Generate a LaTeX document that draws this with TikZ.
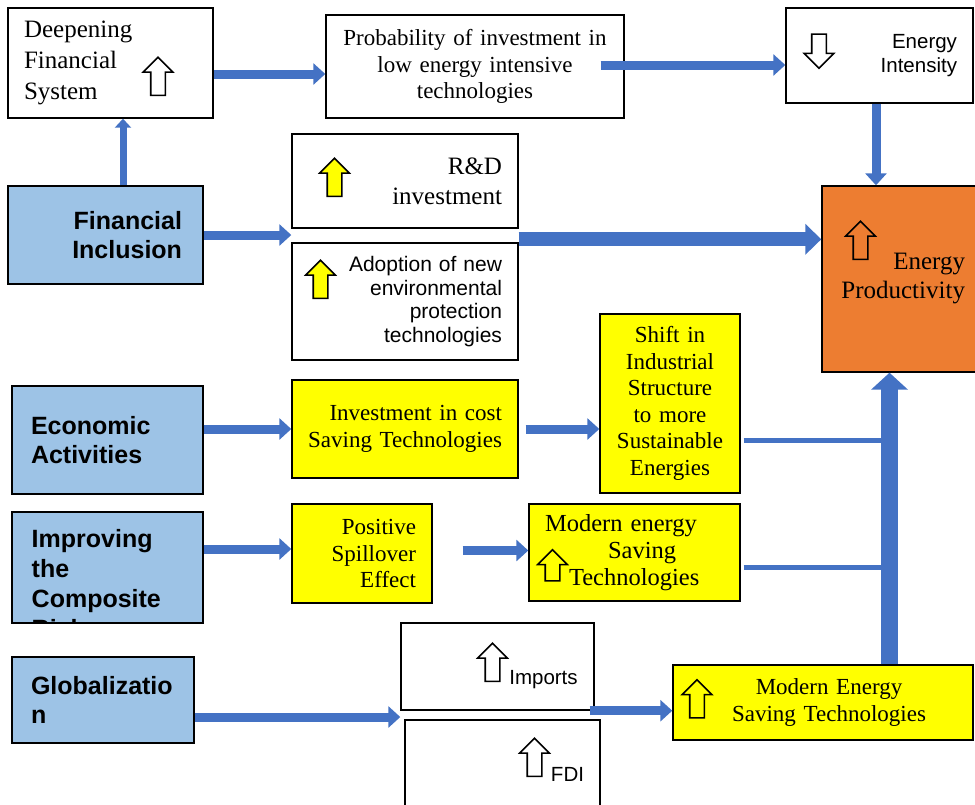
\documentclass[tikz,border=0pt]{standalone}
\usepackage{fontspec}
\setmainfont{Liberation Serif}
\setsansfont{Liberation Sans}
\usetikzlibrary{arrows.meta,shapes.arrows}
\definecolor{driverblue}{HTML}{9DC3E6}
\definecolor{effectyellow}{HTML}{FFFF00}
\definecolor{outcomeorange}{HTML}{ED7D31}
\definecolor{flowblue}{HTML}{4472C4}
\tikzset{
  box/.style={rectangle, draw=black, line width=1.4pt, inner ysep=0pt},
  whitebox/.style={box, fill=white},
  yellowbox/.style={box, fill=effectyellow},
  driver/.style={box, fill=driverblue, font=\sffamily\bfseries\fontsize{25}{29}\selectfont},
  serifmid/.style={font=\rmfamily\fontsize{23}{26.5}\selectfont},
  seriflarge/.style={font=\rmfamily\fontsize{25}{30}\selectfont},
  sanstext/.style={font=\sffamily\fontsize{20.5}{24.5}\selectfont},
  hollowup/.style={single arrow, draw=black, line width=1.6pt, fill=none,
    shape border rotate=90, minimum height=38pt, inner sep=6.5pt,
    single arrow head extend=7.5pt},
  hollowdown/.style={hollowup, shape border rotate=270, minimum height=34pt},
  flow/.style={draw=flowblue, line width=9pt, -{Triangle[length=12pt,width=21pt]}},
  flowthin/.style={draw=flowblue, line width=7pt, -{Triangle[length=9pt,width=16pt]}},
  flowwide/.style={draw=flowblue, line width=14pt, -{Triangle[length=16pt,width=30pt]}},
  spinearrow/.style={draw=flowblue, line width=17pt, -{Triangle[length=17pt,width=36pt]}},
  feed/.style={draw=flowblue, line width=5pt}
}

\begin{document}
\begin{tikzpicture}[x=1pt,y=-1pt]
\path[use as bounding box, fill=white] (0,0) rectangle (975,804);
% top row
\node[whitebox, font=\rmfamily\fontsize{25}{31}\selectfont, align=left, text width=173pt, inner xsep=16pt, minimum height=110pt] (dfs) at (110.5,63) {Deepening\\Financial\\System};
\node[whitebox, serifmid, align=center, text width=266pt, inner xsep=16pt, minimum height=103pt] (prob) at (475,66.5) {Probability of investment in\\low energy intensive\\technologies};
\node[whitebox, sanstext, align=right, text width=155pt, inner xsep=16pt, minimum height=95pt] (ei) at (879.5,55.5) {Energy\\Intensity};
\node[hollowup] (dfsup) at (158,80) {};
\node[hollowdown] (eidown) at (819,47.5) {};
% financial inclusion
\node[driver, align=right, text width=153pt, inner xsep=21pt, minimum height=98pt] (fi) at (105.5,235) {Financial\\Inclusion};
\node[whitebox, seriflarge, align=right, text width=194pt, inner xsep=16pt, minimum height=94pt] (rd) at (405,181) {R\&D\\investment};
\node[whitebox, font=\sffamily\fontsize{21}{23.7}\selectfont, align=right, text width=194pt, inner xsep=16pt, minimum height=117pt] (adopt) at (405,301.5) {Adoption of new\\environmental\\protection\\technologies};
\node[hollowup, fill=effectyellow] (rdup) at (334.5,181) {};
\node[hollowup, fill=effectyellow] (adoptup) at (320.5,283) {};
\node[box, fill=outcomeorange, font=\rmfamily\fontsize{25}{29}\selectfont, align=right, text width=130pt, inner xsep=13pt, minimum height=186pt] (ep) at (900,279) {Energy\\Productivity};
\node[hollowup] (epup) at (860.5,244) {};
% economic activities
\node[driver, align=left, text width=153pt, inner xsep=19pt, minimum height=108pt] (ea) at (107.5,440) {Economic\\Activities};
\node[yellowbox, serifmid, align=right, text width=194pt, inner xsep=16pt, minimum height=98pt] (inv) at (405,429) {Investment in cost\\Saving Technologies};
\node[yellowbox, serifmid, align=center, text width=120pt, inner xsep=10pt, minimum height=179pt] (shift) at (670,403.5) {Shift in\\Industrial\\Structure\\to more\\Sustainable\\Energies};
% composite risk
\node[driver, minimum width=191pt, minimum height=111pt,
  path picture={\node[draw=none, fill=none, anchor=north west, align=left, inner sep=0pt,
    minimum width=0pt, minimum height=0pt,
    font=\sffamily\bfseries\fontsize{25}{30}\selectfont]
    (icrtext) at ([xshift=19pt,yshift=-17pt]path picture bounding box.north west)
    {Improving\\the\\Composite\\Risk};}] (icr) at (107.5,567.5) {};
\node[yellowbox, serifmid, align=right, text width=108pt, inner xsep=16pt, minimum height=99pt] (pse) at (362,553.5) {Positive\\Spillover\\Effect};
\node[yellowbox, font=\rmfamily\fontsize{24.5}{27}\selectfont, align=left, text width=179pt, inner xsep=16pt, minimum height=97pt] (mest) at (634.5,552.5) {Modern energy\\\hspace*{63pt}Saving\\\hspace*{24pt}Technologies};
\node[hollowup, minimum height=31pt] (mestup) at (552.5,569) {};
% globalization
\node[driver, align=left, text width=144pt, inner xsep=19pt, minimum height=86pt] (glob) at (103,700) {Globalizatio\\n};
\node[whitebox, minimum width=193pt, minimum height=87pt] (imp) at (497.5,666.5) {};
\node[whitebox, minimum width=195pt, minimum height=100pt] (fdi) at (502.5,770) {};
\node[hollowup] (impup) at (492.5,666) {};
\node[sanstext, inner sep=0pt] (imptext) at (543.5,680) {Imports};
\node[hollowup] (fdiup) at (534.5,761) {};
\node[sanstext, inner sep=0pt] (fditext) at (567.5,774) {FDI};
\node[yellowbox, serifmid, align=center, text width=268pt, inner xsep=16pt, minimum height=75pt] (mest2) at (823,702.5) {\hspace*{12pt}Modern Energy\\\hspace*{12pt}Saving Technologies};
\node[hollowup] (mest2up) at (697,702.5) {};

% connectors
\coordinate (fiup) at ([xshift=17.5pt]fi.north);
\draw[flowthin] (fiup) -- (fiup |- dfs.south);
\coordinate (dfsout) at ([yshift=-11pt]dfs.east);
\draw[flow] (dfsout) -- (dfsout -| prob.west);
\coordinate (probout) at ([xshift=-24pt,yshift=1.5pt]prob.east);
\draw[flow] (probout) -- (probout -| ei.west);
\coordinate (eiout) at ([xshift=-3.5pt]ei.south);
\draw[flow] (eiout) -- (eiout |- ep.north);
\draw[flow] (fi.east) -- (fi.east -| rd.west);
\coordinate (adoptout) at ([yshift=3pt]adopt.north east);
\draw[flowwide] (adoptout) -- (adoptout -| ep.west);
\draw[flow] (inv.west -| ea.east) -- (inv.west);
\coordinate (invout) at ([xshift=7pt]inv.east);
\draw[flow] (invout) -- (invout -| shift.west);
\coordinate (icrout) at ([yshift=4.5pt]pse.west);
\draw[flow] (icrout -| icr.east) -- (icrout);
\coordinate (pseout) at ([xshift=30pt,yshift=3pt]pse.east);
\draw[flow] (pseout) -- (pseout -| mest.west);
\coordinate (globout) at ([yshift=-17pt]glob.east);
\draw[flow] (globout) -- (globout -| imp.west);
\coordinate (impout) at ([xshift=-5pt]imp.south east);
\draw[flow] (impout) -- (impout -| mest2.west);
% spine into energy productivity
\coordinate (spine) at ([xshift=66.5pt]mest2.north);
\coordinate (shiftout) at ([xshift=3pt,yshift=-36.5pt]shift.east);
\draw[feed] (shiftout) -- (shiftout -| spine);
\coordinate (mestout) at ([xshift=3pt,yshift=-14.5pt]mest.east);
\draw[feed] (mestout) -- (mestout -| spine);
\draw[spinearrow] (spine) -- (spine |- ep.south);
\end{tikzpicture}
\end{document}
